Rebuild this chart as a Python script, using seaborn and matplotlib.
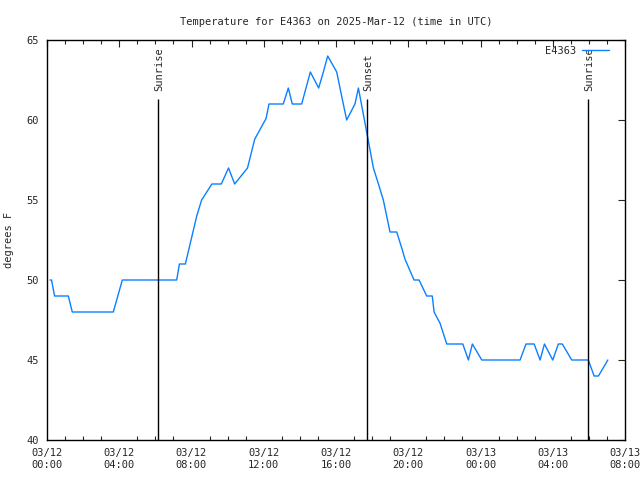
import matplotlib
matplotlib.use("Agg")
import matplotlib.pyplot as plt
import seaborn as sns
import pandas as pd
from matplotlib.ticker import MultipleLocator

# hours since 2025-03-12 00:00 UTC
hours = [0.17, 0.25, 0.42, 1.18, 1.4, 3.67, 4.17, 7.18, 7.33, 7.66, 8.29, 8.56, 9.13,
         9.65, 10.05, 10.39, 11.1, 11.5, 12.13, 12.29, 13.08, 13.36, 13.58, 14.1,
         14.58, 15.04, 15.3, 15.54, 16.04, 16.22, 16.59, 17.05, 17.24, 17.74, 18.07,
         18.35, 18.62, 18.99, 19.36, 19.64, 19.82, 20.32, 20.6, 21.02, 21.33, 21.43,
         21.76, 22.13, 23.02, 23.33, 23.55, 24.07, 26.19, 26.52, 26.97, 27.3, 27.54,
         28.0, 28.31, 28.53, 29.05, 29.97, 30.29, 30.53, 31.05]
temps = [50, 50, 49, 49, 48, 48, 50, 50, 51, 51, 54, 55, 56,
         56, 57, 56, 57, 58.8, 60.1, 61, 61, 62, 61, 61,
         63, 62, 63, 64, 63, 62, 60, 61, 62, 59, 57,
         56, 55, 53, 53, 52, 51.3, 50, 50, 49, 49, 48,
         47.3, 46, 46, 45, 46, 45, 45, 46, 46, 45, 46,
         45, 46, 46, 45, 45, 44, 44, 45]

sun_events = ["Sunrise", "Sunset", "Sunrise"]
sun_hours = [6.15, 17.72, 29.96]

xtick_hours = [0, 4, 8, 12, 16, 20, 24, 28, 32]
xtick_labels = ["03/12\n00:00", "03/12\n04:00", "03/12\n08:00", "03/12\n12:00",
                "03/12\n16:00", "03/12\n20:00", "03/13\n00:00", "03/13\n04:00",
                "03/13\n08:00"]
yticks = [40, 45, 50, 55, 60, 65]

sns.set_style("white")
plt.rcParams['font.family'] = ['DejaVu Sans Mono']
fs = 7.5

fig = plt.figure(figsize=(6.4, 4.8), dpi=100)
ax = fig.add_axes([47/640, 40/480, 578/640, 400/480])

df = pd.DataFrame({"hour": hours, "temp": temps})
sns.lineplot(data=df, x="hour", y="temp", ax=ax, color="#0a80ff", linewidth=1.0,
             label="E4363")

for name, h in zip(sun_events, sun_hours):
    ax.vlines(h, 40, 61.3, color="black", linewidth=1.0)
    ax.text(h + 0.05, 61.8, name, rotation=90, ha="center", va="bottom", fontsize=fs)

ax.set_xlim(0, 32)
ax.set_ylim(40, 65)
ax.set_xticks(xtick_hours)
ax.set_xticklabels(xtick_labels, fontsize=fs)
ax.xaxis.set_minor_locator(MultipleLocator(1))
ax.set_yticks(yticks)
ax.set_yticklabels([str(v) for v in yticks], fontsize=fs)
ax.tick_params(axis="both", which="major", direction="in", length=5, width=0.8,
               top=True, right=True, pad=6)
ax.tick_params(axis="x", which="minor", direction="in", length=3, width=0.8,
               top=True, bottom=True)
for s in ax.spines.values():
    s.set_color("black")
    s.set_linewidth(1.0)

ax.set_xlabel("")
ax.set_ylabel("degrees F", fontsize=fs, labelpad=9)
ax.set_title("Temperature for E4363 on 2025-Mar-12 (time in UTC)", fontsize=fs, pad=11)

leg = ax.legend(loc="upper right", bbox_to_anchor=(0.973, 0.986), frameon=False,
                fontsize=fs, markerfirst=False, handlelength=2.6,
                borderaxespad=0, handletextpad=0.6, borderpad=0)

fig.savefig("out.png", dpi=100)
